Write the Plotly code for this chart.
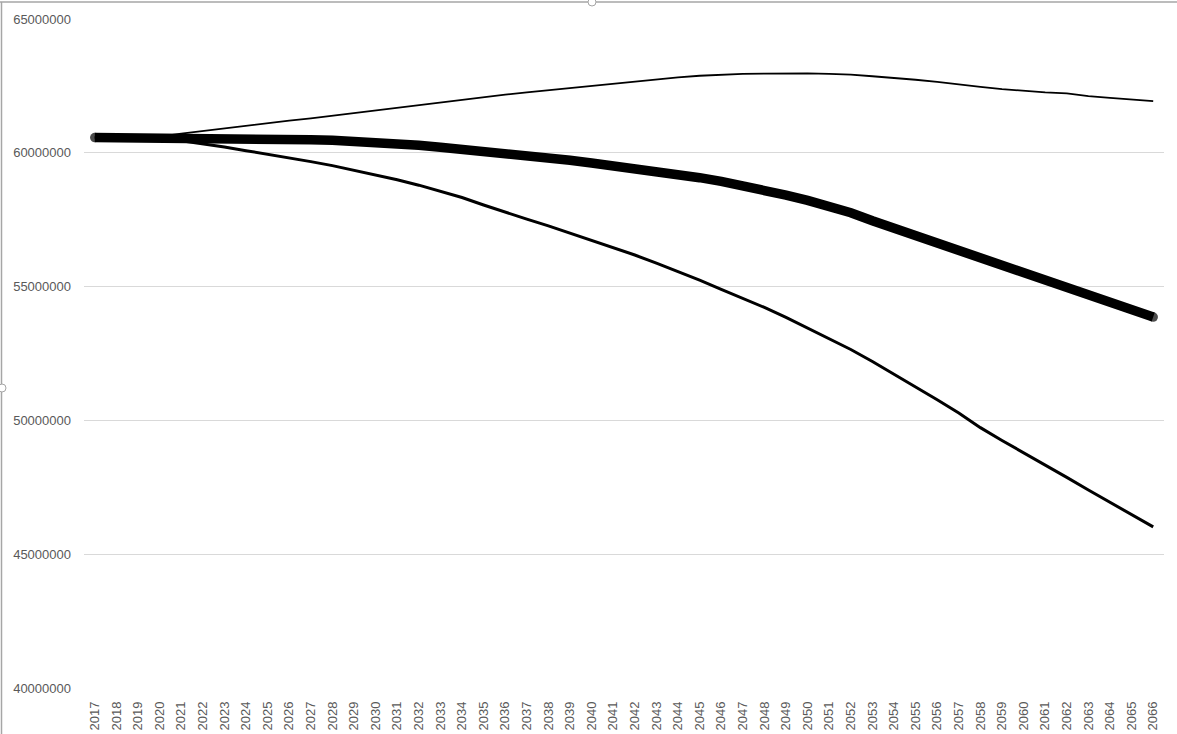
import plotly.graph_objects as go

years = [str(y) for y in range(2017, 2067)]

high = [60.58, 60.58, 60.58, 60.60, 60.72, 60.82, 60.92, 61.01, 61.10, 61.20,
        61.29, 61.39, 61.49, 61.59, 61.68, 61.78, 61.88, 61.98, 62.08, 62.17,
        62.26, 62.34, 62.43, 62.52, 62.60, 62.68, 62.75, 62.82, 62.88, 62.92,
        62.95, 62.96, 62.97, 62.97, 62.95, 62.92, 62.86, 62.80, 62.73, 62.65,
        62.55, 62.46, 62.38, 62.31, 62.26, 62.22, 62.12, 62.05, 61.98, 61.93]

central = [60.57, 60.57, 60.57, 60.57, 60.56, 60.55, 60.54, 60.53, 60.51, 60.50,
           60.49, 60.47, 60.44, 60.39, 60.33, 60.28, 60.21, 60.14, 60.07, 60.00,
           59.92, 59.82, 59.72, 59.62, 59.52, 59.42, 59.32, 59.20, 59.07, 58.93,
           58.78, 58.60, 58.42, 58.22, 58.00, 57.76, 57.46, 57.18, 56.92, 56.64,
           56.36, 56.06, 55.78, 55.52, 55.24, 54.94, 54.64, 54.37, 54.12, 53.86]

low = [60.57, 60.57, 60.57, 60.55, 60.45, 60.34, 60.22, 60.08, 59.95, 59.82,
       59.67, 59.52, 59.35, 59.18, 58.99, 58.79, 58.57, 58.33, 58.05, 57.78,
       57.52, 57.27, 57.00, 56.72, 56.45, 56.18, 55.88, 55.57, 55.24, 54.90,
       54.57, 54.22, 53.85, 53.45, 53.05, 52.65, 52.20, 51.73, 51.25, 50.77,
       50.28, 49.73, 49.25, 48.80, 48.33, 47.87, 47.40, 46.93, 46.48, 46.02]

y_ticks = [40000000, 45000000, 50000000, 55000000, 60000000, 65000000]

to_people = lambda s: [v * 1_000_000 for v in s]

fig = go.Figure()
fig.add_trace(go.Scatter(x=years, y=to_people(high), mode="lines",
                         line=dict(color="black", width=1.8), showlegend=False))
fig.add_trace(go.Scatter(x=years, y=to_people(low), mode="lines",
                         line=dict(color="black", width=3), showlegend=False))
caps = [9.5] + [0] * (len(years) - 2) + [9.5]
fig.add_trace(go.Scatter(x=years, y=to_people(central), mode="lines+markers",
                         line=dict(color="black", width=9.5),
                         marker=dict(color="black", size=caps, line=dict(width=0)),
                         showlegend=False))

W, H = 1177, 734
L, R, T, B = 84, 13, 19, 46
pw, ph = W - L - R, H - T - B
px = lambda x: (x - L) / pw
py = lambda y: (H - B - y) / ph

shapes = [
    dict(type="line", xref="paper", yref="paper", x0=px(0), x1=px(W), y0=py(2), y1=py(2),
         line=dict(color="#a6a6a6", width=1.5)),
    dict(type="line", xref="paper", yref="paper", x0=px(1.5), x1=px(1.5), y0=py(2), y1=py(H),
         line=dict(color="#a6a6a6", width=1.5)),
    dict(type="circle", xref="paper", yref="paper", x0=px(588), x1=px(596), y0=py(6), y1=py(-2),
         line=dict(color="#a6a6a6", width=1), fillcolor="white"),
    dict(type="circle", xref="paper", yref="paper", x0=px(-2), x1=px(6), y0=py(392), y1=py(384),
         line=dict(color="#a6a6a6", width=1), fillcolor="white"),
]

fig.update_layout(
    width=W, height=H,
    margin=dict(l=L, r=R, t=T, b=B, autoexpand=False),
    paper_bgcolor="white", plot_bgcolor="white",
    font=dict(family="Liberation Sans, Arial, sans-serif", size=13, color="#595959"),
    shapes=shapes,
)
fig.update_xaxes(type="category", range=[-0.5, len(years) - 0.5], showgrid=False,
                 showline=False, zeroline=False, ticks="", tickangle=-90, automargin=False,
                 tickfont=dict(size=13, color="#595959"), ticklabelstandoff=10)
fig.update_yaxes(range=[40000000, 65000000], tickvals=y_ticks, automargin=False,
                 ticktext=[str(v) for v in y_ticks], showgrid=True,
                 gridcolor="#d9d9d9", gridwidth=1, zeroline=False, showline=False,
                 ticks="", tickfont=dict(size=13, color="#595959"), ticklabelstandoff=12)

fig.write_html("out.html", config={"displayModeBar": False},
               post_script="document.body.style.margin='0';document.body.style.overflow='hidden';")
